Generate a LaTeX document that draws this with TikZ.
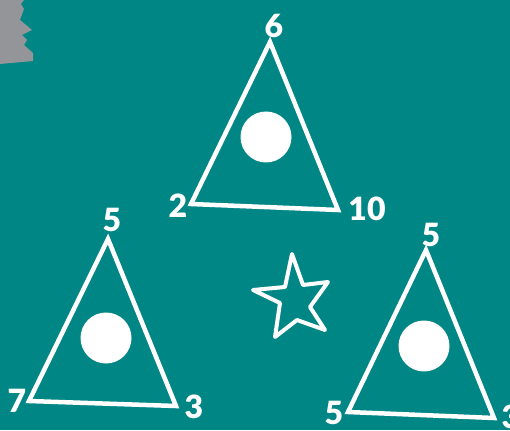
\documentclass[tikz,border=0pt]{standalone}
\usepackage{fontspec}
\setmainfont{Lato}[BoldFont={Lato Black}]
\definecolor{teal}{RGB}{0,134,133}
\definecolor{paper}{RGB}{148,149,153}

\begin{document}
\begin{tikzpicture}[x=1pt,y=-1pt,line width=4.5pt,line join=miter,
  tri/.style={draw=white,line width=4.5pt},
  dot/.style={fill=white},
  num/.style={text=white,font=\fontsize{32}{32}\selectfont\bfseries,inner sep=0pt}]
% background
\fill[teal] (0,0) rectangle (510,430);
\useasboundingbox (0,0) rectangle (510,430);
% torn paper corner
\fill[paper] (0,0) -- (24,0) -- (21,4) -- (24,9) -- (20,20) -- (26,25) -- (32,30)
  -- (22,35) -- (27,40) -- (24,45) -- (33,53) -- (33,61) -- (0,64) -- cycle;
% top triangle
\draw[tri] (270,42) -- (191,204) -- (338,210) -- cycle;
\fill[dot] (266,137) circle (25.5);
\node[num] (topA) at (274,26) {6};
\node[num] (topL) at (178,206) {2};
\node[num] (topR) at (367,209) {10};
% left triangle
\draw[tri] (108,239) -- (29,401) -- (176,406) -- cycle;
\fill[dot] (106,338) circle (25.5);
\node[num] (leftA) at (112,220) {5};
\node[num] (leftL) at (17,401) {7};
\node[num] (leftR) at (194,407) {3};
% right triangle
\draw[tri] (426,250) -- (348,412) -- (494,418) -- cycle;
\fill[dot] (424,346) circle (25.5);
\node[num] (rightA) at (431,235) {5};
\node[num] (rightL) at (334,413) {5};
\node[num] (rightR) at (511,417) {3};
% star
\draw[white,line width=4pt,line join=round] (292,254) -- (303,285) -- (328,282)
  -- (310,307) -- (325,330) -- (297,320) -- (275,337) -- (280,303) -- (253,290)
  -- (285,287) -- cycle;
\end{tikzpicture}
\end{document}
